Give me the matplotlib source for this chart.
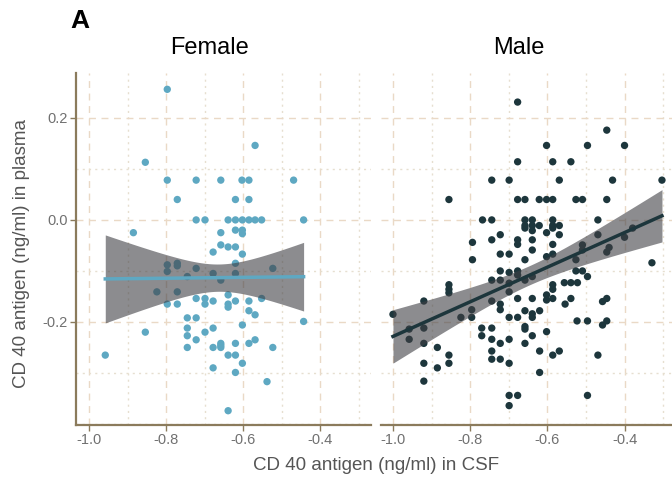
import numpy as np
import matplotlib
matplotlib.use("Agg")
import matplotlib.pyplot as plt
from matplotlib.ticker import MultipleLocator

plt.rcParams['font.family'] = ['Liberation Sans', 'DejaVu Sans']

# ---------------- data ----------------
female_x = [-0.797, -0.854, -0.569, -0.797, -0.722, -0.658, -0.603, -0.585, -0.469,
            -0.771, -0.620, -0.585,
            -0.722, -0.699, -0.639, -0.620, -0.602, -0.585, -0.569, -0.552, -0.443,
            -0.885, -0.658, -0.620, -0.602, -0.602,
            -0.658, -0.639, -0.620, -0.678, -0.602,
            -0.797, -0.797, -0.771, -0.771, -0.722, -0.745, -0.678, -0.658, -0.620, -0.620,
            -0.523, -0.824, -0.771,
            -0.639, -0.797, -0.771, -0.722, -0.699, -0.699, -0.678, -0.639, -0.639, -0.620,
            -0.585, -0.552, -0.585, -0.569, -0.745, -0.722, -0.443, -0.602, -0.745, -0.678,
            -0.854, -0.699, -0.745, -0.722, -0.658, -0.658, -0.620, -0.585, -0.569, -0.745,
            -0.678, -0.658, -0.523, -0.958, -0.639, -0.620, -0.602, -0.678, -0.620, -0.538,
            -0.639]
female_y = [0.256, 0.113, 0.146, 0.078, 0.078, 0.078, 0.078, 0.078, 0.078,
            0.040, 0.040, 0.040,
            0.0, 0.0, 0.0, 0.0, 0.0, 0.0, 0.0, 0.0, 0.0,
            -0.025, -0.025, -0.020, -0.020, -0.027,
            -0.049, -0.053, -0.053, -0.063, -0.067,
            -0.088, -0.101, -0.085, -0.090, -0.095, -0.111, -0.105, -0.118, -0.085, -0.105,
            -0.095, -0.141, -0.141,
            -0.147, -0.165, -0.165, -0.154, -0.154, -0.165, -0.159, -0.165, -0.171, -0.159,
            -0.159, -0.154, -0.178, -0.186, -0.192, -0.192, -0.199, -0.206, -0.212, -0.212,
            -0.220, -0.220, -0.227, -0.235, -0.242, -0.246, -0.242, -0.242, -0.235, -0.250,
            -0.250, -0.250, -0.250, -0.265, -0.265, -0.265, -0.281, -0.290, -0.299, -0.317,
            -0.374]

male_x = [-0.677, -0.446, -0.602, -0.496, -0.400, -0.677, -0.586, -0.539, -0.744, -0.699,
          -0.569, -0.431, -0.303, -0.855, -0.677, -0.658, -0.621, -0.602, -0.586, -0.526,
          -0.509, -0.446,
          -0.768, -0.744, -0.658, -0.639, -0.586, -0.469,
          -0.658, -0.639, -0.621, -0.586, -0.569, -0.658, -0.639, -0.602, -0.586, -0.569,
          -0.722, -0.469, -0.400, -0.379, -0.744, -0.677, -0.677, -0.639, -0.794, -0.586,
          -0.639, -0.509, -0.509, -0.440, -0.446, -0.722, -0.699, -0.586, -0.602,
          -0.794, -0.658, -0.526, -0.329,
          -0.722, -0.699, -0.677, -0.677, -0.658, -0.639, -0.744, -0.722, -0.699, -0.699,
          -0.855, -0.855, -0.855, -0.526, -0.509, -0.496, -0.556, -0.539, -0.522, -0.586,
          -0.586, -0.602, -0.602, -0.586, -0.639, -0.677, -0.539, -0.554, -0.446, -0.457,
          -0.920, -0.744, -0.722, -0.722, -0.796, -0.796, -0.824, -0.699, -0.677, -0.658,
          -0.639, -0.639, -0.620, -1.000, -0.958, -0.958, -0.920, -0.920, -0.885, -0.855,
          -0.855, -0.920, -0.885, -0.920, -0.770, -0.770, -0.744, -0.744, -0.744, -0.744,
          -0.722, -0.722, -0.699, -0.699, -0.658, -0.658, -0.639, -0.658, -0.602, -0.620,
          -0.620, -0.586, -0.569, -0.523, -0.496, -0.457, -0.446, -0.469, -0.699, -0.677,
          -0.699, -0.496]
male_y = [0.231, 0.176, 0.146, 0.146, 0.146, 0.114, 0.114, 0.114, 0.078, 0.078,
          0.078, 0.078, 0.078, 0.040, 0.040, 0.040, 0.040, 0.040, 0.040, 0.040,
          0.040, 0.040,
          0.0, 0.0, 0.0, 0.0, 0.0, 0.0,
          -0.011, -0.011, -0.011, -0.011, -0.011, -0.016, -0.021, -0.025, -0.016, -0.029,
          -0.029, -0.029, -0.034, -0.016, -0.039, -0.039, -0.048, -0.039, -0.044, -0.048,
          -0.059, -0.049, -0.059, -0.054, -0.063, -0.067, -0.067, -0.067, -0.072,
          -0.078, -0.078, -0.078, -0.084,
          -0.100, -0.103, -0.100, -0.108, -0.118, -0.111, -0.118, -0.118, -0.124, -0.141,
          -0.127, -0.136, -0.143, -0.100, -0.100, -0.111, -0.123, -0.123, -0.123, -0.127,
          -0.136, -0.147, -0.157, -0.154, -0.154, -0.154, -0.154, -0.165, -0.154, -0.160,
          -0.159, -0.159, -0.165, -0.176, -0.176, -0.191, -0.191, -0.191, -0.191, -0.178,
          -0.184, -0.191, -0.178, -0.185, -0.214, -0.234, -0.212, -0.242, -0.250, -0.265,
          -0.281, -0.281, -0.290, -0.316, -0.212, -0.227, -0.212, -0.234, -0.257, -0.273,
          -0.242, -0.273, -0.234, -0.281, -0.209, -0.214, -0.227, -0.242, -0.219, -0.257,
          -0.299, -0.265, -0.257, -0.198, -0.198, -0.206, -0.198, -0.265, -0.344, -0.344,
          -0.364, -0.344]

panel_titles = ["Female", "Male"]
x_ticks = [-1.0, -0.8, -0.6, -0.4]
x_tick_labels = ["-1.0", "-0.8", "-0.6", "-0.4"]
y_ticks = [-0.2, 0.0, 0.2]
y_tick_labels = ["-0.2", "0.0", "0.2"]
x_label = "CD 40 antigen (ng/ml) in CSF"
y_label = "CD 40 antigen (ng/ml) in plasma"
female_color = "#5ea8c2"
male_color = "#1d363c"

# ---------------- figure ----------------
fig = plt.figure(figsize=(6.72, 4.82), dpi=100)
W, H = 672, 482
def px_axes(x0, x1, ytop, ybot):
    return fig.add_axes([x0 / W, 1 - ybot / H, (x1 - x0) / W, (ybot - ytop) / H])

ax_f = px_axes(76, 371, 73, 425)
ax_m = px_axes(381, 672, 73, 425)

spine_c = "#8b7b5c"
grid_major = "#ead9c6"
grid_minor = "#e6dfd0"

def fit_ci(x, y, n_grid=100):
    x = np.asarray(x); y = np.asarray(y)
    b, a = np.polyfit(x, y, 1)
    xs = np.linspace(x.min(), x.max(), n_grid)
    ys = a + b * xs
    n = len(x)
    resid = y - (a + b * x)
    s = np.sqrt(np.sum(resid ** 2) / (n - 2))
    sxx = np.sum((x - x.mean()) ** 2)
    se = s * np.sqrt(1.0 / n + (xs - x.mean()) ** 2 / sxx)
    t = 1.98
    return xs, ys, ys - t * se, ys + t * se

for ax, xs, ys, col, xl in [
        (ax_f, female_x, female_y, female_color, (-1.034, -0.268)),
        (ax_m, male_x, male_y, male_color, (-1.031, -0.277))]:
    ax.scatter(xs, ys, s=28, color=col, edgecolors='none', zorder=2)
    gx, gy, lo, hi = fit_ci(xs, ys)
    ax.fill_between(gx, lo, hi, color="#3f3f44", alpha=0.6, linewidth=0, zorder=3)
    ax.plot(gx, gy, color=col, lw=2.5, zorder=4)
    ax.set_xlim(*xl)
    ax.set_ylim(-0.402, 0.288)
    ax.set_xticks(x_ticks)
    ax.set_xticklabels(x_tick_labels)
    ax.set_yticks(y_ticks)
    ax.set_yticklabels(y_tick_labels)
    ax.xaxis.set_minor_locator(MultipleLocator(0.1))
    ax.yaxis.set_minor_locator(MultipleLocator(0.1))
    ax.grid(True, which='major', color=grid_major, lw=1.0, ls=(0, (5, 4)), zorder=0)
    ax.grid(True, which='minor', color=grid_minor, lw=1.0, ls=(0, (1.5, 3)), zorder=0)
    ax.set_axisbelow(True)
    for s in ['top', 'right']:
        ax.spines[s].set_visible(False)
    for s in ['bottom', 'left']:
        ax.spines[s].set_color(spine_c)
        ax.spines[s].set_linewidth(1.6)
    ax.tick_params(which='major', length=4, width=1, color=spine_c,
                   labelcolor="#707070", labelsize=10.5, pad=2)
    ax.tick_params(which='minor', length=0)
    ax.set_facecolor('white')

ax_m.spines['left'].set_visible(False)
ax_m.tick_params(axis='y', which='both', left=False, labelleft=False)

fig.text(209 / W, 1 - 48 / H, panel_titles[0], ha='center', va='center', fontsize=17)
fig.text(519 / W, 1 - 48 / H, panel_titles[1], ha='center', va='center', fontsize=17)
fig.text(70 / W, 1 - 21 / H, "A", ha='left', va='center', fontsize=19, fontweight='bold')
fig.text(376 / W, 1 - 466 / H, x_label, ha='center', va='center',
         fontsize=13.5, color="#555555")
fig.text(22 / W, 1 - 253 / H, y_label, ha='center', va='center',
         rotation=90, fontsize=13.5, color="#555555")

fig.savefig("out.png", dpi=100, facecolor='white')
